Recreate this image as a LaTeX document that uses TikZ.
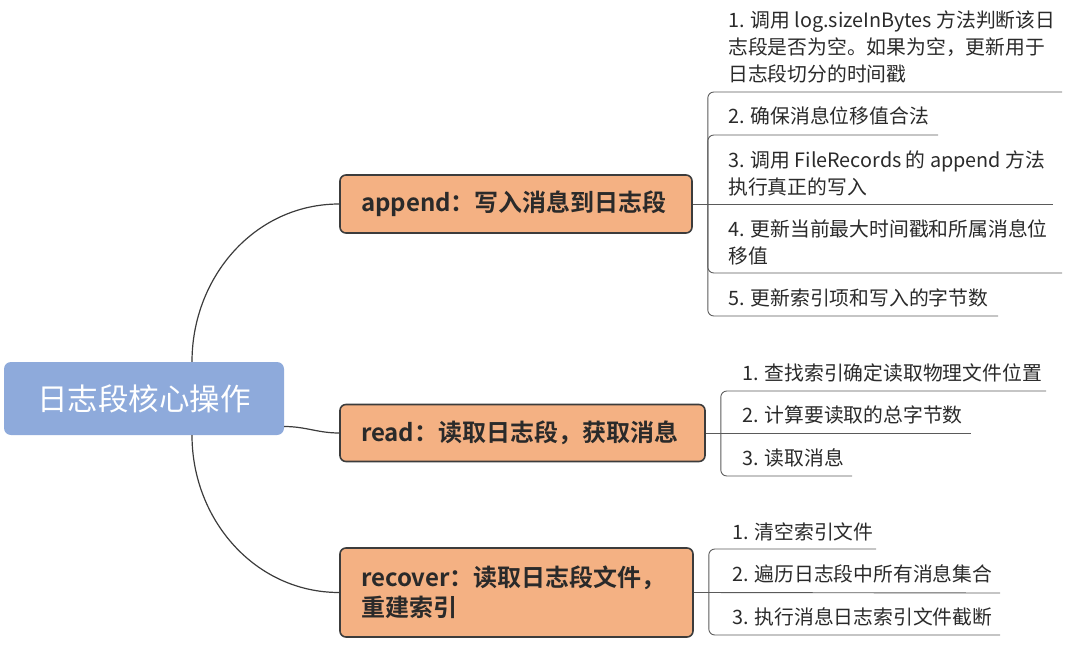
\documentclass[tikz,border=0pt]{standalone}
\usepackage{fontspec}
\newfontfamily\cjk[BoldFont={Noto Sans CJK SC Bold}]{Noto Sans CJK SC}
\definecolor{boxfill}{HTML}{F4B183}
\definecolor{boxline}{HTML}{3C3C3C}
\definecolor{rootfill}{HTML}{8EAADB}
\definecolor{txt}{HTML}{2A2A2A}
\definecolor{uline}{HTML}{5A5A5A}
\begin{document}
\begin{tikzpicture}[x=1pt,y=-1pt,
  rootbox/.style={rounded corners=7pt, fill=rootfill, draw=none, minimum width=280pt, minimum height=73pt, text=white, font=\cjk\fontsize{30.5}{34}\selectfont},
  opbox/.style={rounded corners=6pt, fill=boxfill, draw=boxline, line width=1.6pt, align=left, inner xsep=21pt, text=txt, font=\cjk\bfseries\fontsize{24}{30}\selectfont},
  item/.style={anchor=west, inner sep=0pt, align=left, text=txt, font=\cjk\fontsize{19.8}{27}\selectfont},
  mainlink/.style={draw=boxline, line width=1.2pt},
  sub/.style={draw=uline, line width=0.9pt, rounded corners=6pt}]
\useasboundingbox (0,0) rectangle (1092,650);

\node[rootbox] (root) at (144,398.5) {日志段核心操作};

\node[opbox, minimum width=352pt, minimum height=58pt, text width=310pt] (app) at (516,204) {append：写入消息到日志段};
\node[opbox, minimum width=365pt, minimum height=57pt, text width=323pt] (rd) at (522.5,433) {read：读取日志段，获取消息};
\node[opbox, minimum width=353pt, minimum height=89pt, text width=311pt] (rec) at (516.5,592.5) {recover：读取日志段文件，\\重建索引};

\draw[mainlink] ([xshift=48pt]root.north) to[out=90,in=180] (app.west);
\draw[mainlink] ([yshift=-28pt]root.east) to[out=0,in=180] (rd.west);
\draw[mainlink] ([xshift=48pt]root.south) to[out=-90,in=180] (rec.west);

% append items
\node[item] (a1) at (728,47) {1. 调用 log.sizeInBytes 方法判断该日\\志段是否为空。如果为空，更新用于\\日志段切分的时间戳};
\node[item] (a2) at (728,116) {2. 确保消息位移值合法};
\node[item] (a3) at (728,173.5) {3. 调用 FileRecords 的 append 方法\\执行真正的写入};
\node[item] (a4) at (728,242.5) {4. 更新当前最大时间戳和所属消息位\\移值};
\node[item] (a5) at (728,298) {5. 更新索引项和写入的字节数};
\coordinate (a1e) at (1062,92);
\coordinate (a2e) at (938,135);
\coordinate (a3e) at (1053,204);
\coordinate (a4e) at (1062,273);
\coordinate (a5e) at (998,316);
\draw[sub] (app.east) -- (a3e);
\coordinate (as) at ([xshift=15pt]app.east);
\draw[sub] (as) |- (a1e);
\draw[sub] (as) |- (a2e);
\draw[sub] (as) |- (a4e);
\draw[sub] (as) |- (a5e);

% read items
\node[item] (r1) at (742,373) {1. 查找索引确定读取物理文件位置};
\node[item] (r2) at (742,415) {2. 计算要读取的总字节数};
\node[item] (r3) at (742,458) {3. 读取消息};
\coordinate (r1e) at (1046,391);
\coordinate (r2e) at (971,433);
\coordinate (r3e) at (852,476);
\draw[sub] (rd.east) -- (r2e);
\coordinate (rs) at ([xshift=15pt]rd.east);
\draw[sub] (rs) |- (r1e);
\draw[sub] (rs) |- (r3e);

% recover items
\node[item] (c1) at (732,532) {1. 清空索引文件};
\node[item] (c2) at (732,574) {2. 遍历日志段中所有消息集合};
\node[item] (c3) at (732,617) {3. 执行消息日志索引文件截断};
\coordinate (c1e) at (876,549);
\coordinate (c2e) at (1000,593);
\coordinate (c3e) at (1000,635);
\draw[sub] (rec.east) -- (c2e);
\coordinate (cs) at ([xshift=15pt]rec.east);
\draw[sub] (cs) |- (c1e);
\draw[sub] (cs) |- (c3e);
\end{tikzpicture}
\end{document}
